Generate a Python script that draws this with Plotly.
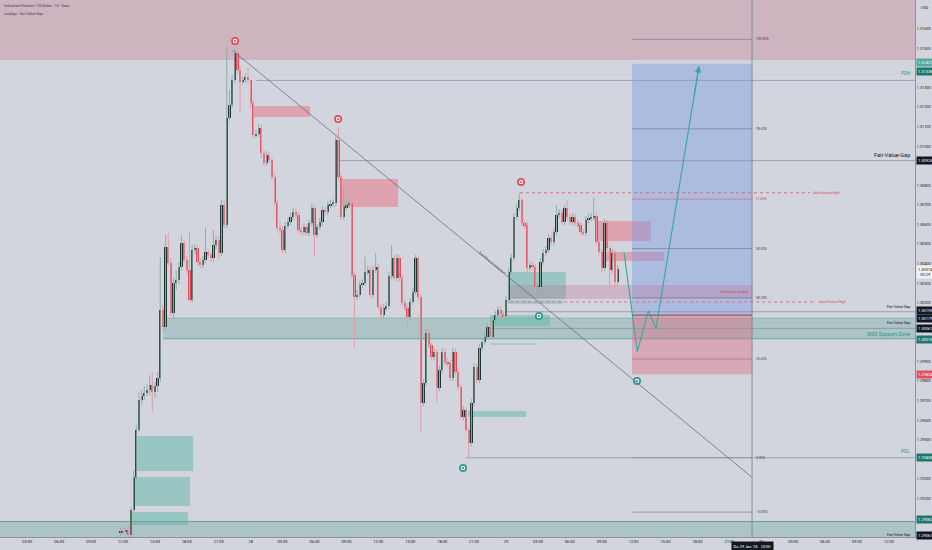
import plotly.graph_objects as go
import pandas as pd

# ---------------- candle data (15 min, CHF/USD) ----------------
bar_start = "2026-01-27 11:45"
first_open = 1.29023
closes = [
    1.29034, 1.29028, 1.29039, 1.29013, 1.29141, 1.29310, 1.29550, 1.29703, 1.29723, 1.29739,
    1.29754, 1.29780, 1.29744, 1.29775, 1.29815, 1.30163, 1.30076, 1.30485, 1.30403, 1.30148,
    1.30301, 1.30316, 1.30383, 1.30505, 1.30418, 1.30367, 1.30214, 1.30470, 1.30480, 1.30408,
    1.30393, 1.30418, 1.30459, 1.30444, 1.30429, 1.30495, 1.30521, 1.30454, 1.30699, 1.30597,
    1.31144, 1.31210, 1.31338, 1.31476, 1.31389, 1.31328, 1.31338, 1.31354, 1.31336, 1.31221,
    1.31057, 1.31062, 1.31093, 1.30965, 1.30914, 1.30955, 1.30929, 1.30843, 1.30710, 1.30582,
    1.30572, 1.30470, 1.30592, 1.30613, 1.30638, 1.30664, 1.30648, 1.30572, 1.30562, 1.30587,
    1.30556, 1.30607, 1.30684, 1.30546, 1.30587, 1.30613, 1.30674, 1.30664, 1.30699, 1.30705,
    1.30710, 1.31032, 1.30843, 1.30638, 1.30689, 1.30699, 1.30710, 1.30342, 1.30229, 1.30240,
    1.30291, 1.30301, 1.30357, 1.30367, 1.30240, 1.30367, 1.30383, 1.30178, 1.30137, 1.30173,
    1.30183, 1.30337, 1.30429, 1.30326, 1.30429, 1.30326, 1.30199, 1.30173, 1.30127, 1.30204,
    1.30255, 1.30429, 1.30229, 1.29688, 1.29790, 1.30045, 1.29984, 1.29923, 1.29948, 1.29764,
    1.29856, 1.29948, 1.29897, 1.29892, 1.29815, 1.29948, 1.29846, 1.29769, 1.29616, 1.29652,
    1.29550, 1.29483, 1.29688, 1.29872, 1.29805, 1.29969, 1.29999, 1.30025, 1.30076, 1.30025,
    1.30112, 1.30137, 1.30163, 1.30142, 1.30132, 1.30214, 1.30357, 1.30429, 1.30638, 1.30684,
    1.30725, 1.30607, 1.30597, 1.30378, 1.30393, 1.30383, 1.30281, 1.30283, 1.30408, 1.30454,
    1.30470, 1.30531, 1.30510, 1.30562, 1.30648, 1.30659, 1.30613, 1.30684, 1.30638, 1.30613,
    1.30638, 1.30607, 1.30597, 1.30562, 1.30556, 1.30623, 1.30633, 1.30638, 1.30643, 1.30510,
    1.30459, 1.30378, 1.30607, 1.30480, 1.30367, 1.30454, 1.30306, 1.30374,
]
highs = [
    1.29049, 1.29049, 1.29054, 1.29069, 1.29156, 1.29345, 1.29575, 1.29744, 1.29754, 1.29775,
    1.29785, 1.29831, 1.29846, 1.29795, 1.29846, 1.30434, 1.30189, 1.30546, 1.30556, 1.30429,
    1.30326, 1.30367, 1.30408, 1.30546, 1.30521, 1.30439, 1.30562, 1.30495, 1.30500, 1.30495,
    1.30429, 1.30439, 1.30582, 1.30475, 1.30459, 1.30572, 1.30541, 1.30541, 1.30725, 1.30725,
    1.31507, 1.31287, 1.31364, 1.31497, 1.31492, 1.31410, 1.31359, 1.31374, 1.31400, 1.31336,
    1.31236, 1.31083, 1.31113, 1.31108, 1.30981, 1.30975, 1.30970, 1.30945, 1.30858, 1.30725,
    1.30613, 1.30592, 1.30613, 1.30633, 1.30659, 1.30684, 1.30679, 1.30664, 1.30587, 1.30607,
    1.30602, 1.30623, 1.30710, 1.30699, 1.30602, 1.30633, 1.30694, 1.30689, 1.30720, 1.30725,
    1.30730, 1.31057, 1.31098, 1.30858, 1.30791, 1.30725, 1.30730, 1.30725, 1.30357, 1.30265,
    1.30311, 1.30321, 1.30434, 1.30388, 1.30383, 1.30388, 1.30454, 1.30398, 1.30194, 1.30194,
    1.30204, 1.30357, 1.30495, 1.30444, 1.30449, 1.30444, 1.30342, 1.30214, 1.30189, 1.30224,
    1.30275, 1.30444, 1.30444, 1.30245, 1.29810, 1.30066, 1.30061, 1.29999, 1.29969, 1.29964,
    1.29877, 1.29969, 1.29964, 1.29918, 1.29907, 1.29969, 1.29964, 1.29861, 1.29785, 1.29672,
    1.29667, 1.29565, 1.29708, 1.29892, 1.29887, 1.29989, 1.30020, 1.30045, 1.30097, 1.30091,
    1.30132, 1.30158, 1.30183, 1.30178, 1.30158, 1.30234, 1.30378, 1.30449, 1.30659, 1.30705,
    1.30761, 1.30740, 1.30623, 1.30613, 1.30413, 1.30408, 1.30398, 1.30301, 1.30429, 1.30475,
    1.30490, 1.30551, 1.30546, 1.30582, 1.30699, 1.30679, 1.30674, 1.30699, 1.30725, 1.30654,
    1.30659, 1.30654, 1.30623, 1.30613, 1.30577, 1.30643, 1.30654, 1.30659, 1.30740, 1.30659,
    1.30526, 1.30475, 1.30628, 1.30623, 1.30495, 1.30475, 1.30470, 1.30393,
]
lows = [
    1.29008, 1.29013, 1.29018, 1.29003, 1.28988, 1.29131, 1.29294, 1.29539, 1.29677, 1.29703,
    1.29723, 1.29729, 1.29642, 1.29713, 1.29744, 1.29795, 1.30050, 1.30061, 1.30388, 1.30132,
    1.30122, 1.30265, 1.30296, 1.30367, 1.30403, 1.30347, 1.30204, 1.30199, 1.30449, 1.30388,
    1.30378, 1.30378, 1.30403, 1.30429, 1.30408, 1.30408, 1.30475, 1.30418, 1.30439, 1.30582,
    1.30582, 1.31129, 1.31195, 1.31323, 1.31374, 1.31175, 1.31313, 1.31323, 1.31323, 1.31195,
    1.31042, 1.31042, 1.31047, 1.30940, 1.30899, 1.30899, 1.30914, 1.30827, 1.30694, 1.30562,
    1.30551, 1.30454, 1.30454, 1.30577, 1.30597, 1.30623, 1.30633, 1.30556, 1.30541, 1.30546,
    1.30541, 1.30541, 1.30592, 1.30434, 1.30531, 1.30572, 1.30597, 1.30648, 1.30648, 1.30684,
    1.30689, 1.30694, 1.30827, 1.30623, 1.30623, 1.30674, 1.30684, 1.30326, 1.29969, 1.30214,
    1.30224, 1.30275, 1.30286, 1.30342, 1.30224, 1.30224, 1.30352, 1.30163, 1.30097, 1.30122,
    1.30158, 1.30168, 1.30321, 1.30311, 1.30311, 1.30306, 1.30183, 1.30158, 1.30076, 1.30112,
    1.30189, 1.30240, 1.30214, 1.29534, 1.29672, 1.29775, 1.29969, 1.29907, 1.29907, 1.29688,
    1.29749, 1.29841, 1.29882, 1.29872, 1.29800, 1.29800, 1.29831, 1.29754, 1.29601, 1.29601,
    1.29534, 1.29408, 1.29468, 1.29672, 1.29790, 1.29790, 1.29953, 1.29984, 1.30010, 1.30010,
    1.30010, 1.30097, 1.30122, 1.30127, 1.30117, 1.30117, 1.30199, 1.30342, 1.30413, 1.30623,
    1.30669, 1.30592, 1.30577, 1.30357, 1.30362, 1.30367, 1.30255, 1.30260, 1.30265, 1.30393,
    1.30439, 1.30454, 1.30495, 1.30495, 1.30546, 1.30633, 1.30597, 1.30597, 1.30623, 1.30597,
    1.30597, 1.30592, 1.30582, 1.30546, 1.30541, 1.30541, 1.30607, 1.30618, 1.30618, 1.30495,
    1.30444, 1.30352, 1.30362, 1.30464, 1.30265, 1.30352, 1.30265, 1.30291,
]

# ---------------- drawings ----------------
pdh_price, pdl_price = 1.31336, 1.29408
fvg_line_prices = [1.30926, 1.30154, 1.30069]
fvg_line_starts = ["2026-01-28 08:24", "2026-01-28 23:55", "2026-01-28 22:30"]

bull_fvgs = [  # (start, end, low, high)
    ("2026-01-27 13:19", "2026-01-27 18:35", 1.29340, 1.29519),
    ("2026-01-27 12:56", "2026-01-27 18:18", 1.29161, 1.29310),
    ("2026-01-27 12:45", "2026-01-27 18:07", 1.29064, 1.29131),
    ("2026-01-28 20:26", "2026-01-29 01:53", 1.29616, 1.29647),
    ("2026-01-29 00:23", "2026-01-29 05:38", 1.30219, 1.30357),
    ("2026-01-28 22:30", "2026-01-29 04:08", 1.30081, 1.30137),
]
bull_fvg_thin = [
    ("2026-01-29 00:11", "2026-01-29 05:22", 1.30194, 1.30214),
    ("2026-01-28 22:30", "2026-01-29 02:55", 1.29984, 1.29994),
]
bear_fvgs = [
    ("2026-01-28 00:13", "2026-01-28 05:35", 1.31149, 1.31205),
    ("2026-01-28 08:30", "2026-01-28 13:51", 1.30689, 1.30832),
    ("2026-01-29 08:28", "2026-01-29 13:38", 1.30515, 1.30618),
    ("2026-01-29 09:19", "2026-01-29 14:52", 1.30413, 1.30459),
]
top_zone_low = 1.31440
bottom_zone_high = 1.29082
m30_zone = ("2026-01-27 15:46", 1.30016, 1.30122)
ext_liq = ("2026-01-29 00:23", "2026-01-29 23:08", 1.30219, 1.30291)

pos_start, pos_end = "2026-01-29 11:51", "2026-01-29 23:08"
target_price, entry_price, stop_price = 1.31421, 1.30137, 1.29834

fib_low, fib_high = 1.29408, 1.31546
fib_levels = [1.0, 0.786, 0.618, 0.5, 0.382, 0.236, 0.0, -0.13]
fib_texts = ["100.00%", "78.60%", "61.80%", "50.00%", "38.20%", "23.60%", "0.00%", "-13.00%"]

asia_lines = [  # (price, start, end)
    (1.30762, "2026-01-29 01:19", "2026-01-30 04:35"),
    (1.30204, "2026-01-29 00:23", "2026-01-30 05:03"),
]
trend_t = ["2026-01-27 22:19", "2026-01-29 23:08"]
trend_p = [1.31488, 1.29308]

bear_mark_t = ["2026-01-27 22:32", "2026-01-28 08:13", "2026-01-29 01:25"]
bear_mark_p = [1.31537, 1.31139, 1.30817]
bull_mark_t = ["2026-01-28 19:58", "2026-01-29 03:06", "2026-01-29 12:19"]
bull_mark_p = [1.29356, 1.30132, 1.29800]

path_t = ["2026-01-29 11:06", "2026-01-29 12:21", "2026-01-29 13:23", "2026-01-29 14:06"]
path_p = [1.30456, 1.29950, 1.30159, 1.30069]
arrow_end = ("2026-01-29 18:09", 1.31410)

crosshair_t = "2026-01-29 23:08"

# price-scale ticks (those hidden behind price labels in the reference are left out)
y_tick_vals = [1.292, 1.293, 1.295, 1.296, 1.297, 1.298, 1.299,
               1.302, 1.303, 1.304, 1.305, 1.306, 1.307, 1.308,
               1.310, 1.311, 1.312, 1.313, 1.315, 1.316]
x_tick_vals = pd.date_range("2026-01-27 03:00", "2026-01-30 12:00", freq="3h")
x_tick_text = [t.strftime("%d").lstrip("0") if t.hour == 0 else t.strftime("%H:%M") for t in x_tick_vals]

axis_labels = [  # (text, display price, bg, fg)
    ("1.31421", 1.31427, "#55a9a0", "white"),
    ("1.31336", 1.31382, "#21766c", "white"),
    ("1.30926", 1.30926, "#131722", "white"),
    ("1.30374<br>00:29", 1.30355, "#eef0f4", "#131722"),
    ("1.30193", 1.30159, "#131722", "white"),
    ("1.30179", 1.30120, "#131722", "white"),
    ("1.30067", 1.30069, "#131722", "white"),
    ("1.30016", 1.30013, "#21766c", "white"),
    ("1.29834", 1.29834, "#e0505e", "white"),
    ("1.29408", 1.29408, "#21766c", "white"),
    ("1.29082", 1.29094, "#21766c", "white"),
    ("1.29067", 1.29012, "#131722", "white"),
]

# ---------------- colours ----------------
BG = "#d2d5dd"
BULL_BODY, BEAR_BODY = "#1b3632", "#e04b5a"
BULL_WICK, BEAR_WICK = "#92aea6", "#e89aa4"
TEAL_TXT = "#2b958a"
DARK = "#131722"

times = pd.date_range(bar_start, periods=len(closes), freq="15min")
opens = [first_open] + closes[:-1]

fig = go.Figure()

# wicks
ux, uy, dx, dy = [], [], [], []
for t, o, h, l, c in zip(times, opens, highs, lows, closes):
    if c >= o:
        ux += [t, t, None]; uy += [l, h, None]
    else:
        dx += [t, t, None]; dy += [l, h, None]
fig.add_trace(go.Scatter(x=ux, y=uy, mode="lines", line=dict(color=BULL_WICK, width=1), hoverinfo="skip"))
fig.add_trace(go.Scatter(x=dx, y=dy, mode="lines", line=dict(color=BEAR_WICK, width=1), hoverinfo="skip"))

# bodies
for bull in (True, False):
    bx, bb, bh = [], [], []
    for t, o, c in zip(times, opens, closes):
        if (c >= o) == bull:
            bx.append(t); bb.append(min(o, c)); bh.append(max(abs(c - o), 0.00003))
    fig.add_trace(go.Bar(x=bx, y=bh, base=bb, width=760000,
                         marker=dict(color=BULL_BODY if bull else BEAR_BODY, line=dict(width=0)),
                         hoverinfo="skip"))

shapes = []
FAR_L, FAR_R = "2026-01-26 12:00", "2026-01-31 06:00"


def rect(x0, x1, y0, y1, fill, line_color=None, lw=0, layer="below"):
    shapes.append(dict(type="rect", xref="x", yref="y", x0=x0, x1=x1, y0=y0, y1=y1,
                       fillcolor=fill, line=dict(color=line_color or "rgba(0,0,0,0)", width=lw),
                       layer=layer))


def hline(p, x0, x1, color, width=1, dash="solid", layer="below"):
    shapes.append(dict(type="line", xref="x", yref="y", x0=x0, x1=x1, y0=p, y1=p,
                       line=dict(color=color, width=width, dash=dash), layer=layer))


# zones
rect(FAR_L, FAR_R, top_zone_low, 1.3300, "rgba(200,147,159,0.5)")
rect(FAR_L, FAR_R, 1.2850, bottom_zone_high, "rgba(118,171,164,0.40)")
hline(bottom_zone_high, FAR_L, FAR_R, "rgba(70,150,140,0.8)", 1)
rect(m30_zone[0], FAR_R, m30_zone[1], m30_zone[2], "rgba(118,171,164,0.40)")
hline(m30_zone[1], m30_zone[0], FAR_R, "rgba(70,150,140,0.7)", 1)
hline(m30_zone[2], m30_zone[0], FAR_R, "rgba(70,150,140,0.35)", 1)
for x0, x1, lo, hi in bull_fvgs:
    rect(x0, x1, lo, hi, "rgba(96,183,167,0.5)")
for x0, x1, lo, hi in bull_fvg_thin:
    rect(x0, x1, lo, hi, "rgba(96,183,167,0.35)")
for x0, x1, lo, hi in bear_fvgs:
    rect(x0, x1, lo, hi, "rgba(234,113,129,0.5)")

# long position tool
rect(pos_start, pos_end, entry_price, target_price, "rgba(120,155,230,0.42)")
rect(pos_start, pos_end, stop_price, entry_price, "rgba(225,100,124,0.40)")
rect(ext_liq[0], ext_liq[1], ext_liq[2], ext_liq[3], "rgba(195,110,150,0.30)")
hline(entry_price, pos_start, pos_end, "rgba(160,70,85,0.9)", 1.2)

# fib
for lv in fib_levels:
    p = fib_low + lv * (fib_high - fib_low)
    col = "rgba(215,110,125,0.9)" if lv == 0.618 else "rgba(110,116,130,0.75)"
    hline(p, pos_start, pos_end, col, 0.8)

# key levels
hline(pdh_price, "2026-01-28 00:30", FAR_R, "rgba(140,150,175,0.8)", 1)
hline(pdl_price, "2026-01-28 20:14", FAR_R, "rgba(140,150,175,0.8)", 1)
for p, s in zip(fvg_line_prices, fvg_line_starts):
    hline(p, s, FAR_R, "rgba(140,146,160,0.8)", 1)
for p, s, e in asia_lines:
    hline(p, s, e, "rgba(220,100,115,0.9)", 1, "dot")

# trendline + crosshair
shapes.append(dict(type="line", xref="x", yref="y", x0=trend_t[0], y0=trend_p[0], x1=trend_t[1],
                   y1=trend_p[1], line=dict(color="rgba(95,100,115,0.9)", width=0.8), layer="above"))
shapes.append(dict(type="line", xref="x", yref="paper", x0=crosshair_t, x1=crosshair_t, y0=0, y1=1,
                   line=dict(color="rgba(125,132,150,0.75)", width=1.2), layer="above"))

# projection path
fig.add_trace(go.Scatter(x=path_t + [arrow_end[0]], y=path_p + [arrow_end[1]], mode="lines",
                         line=dict(color="#36a89b", width=1.1), hoverinfo="skip"))

# markers
for mt, mp, col in ((bear_mark_t, bear_mark_p, "#e04e5c"), (bull_mark_t, bull_mark_p, "#2f9a8c")):
    fig.add_trace(go.Scatter(x=mt, y=mp, mode="markers", marker=dict(size=8, color=col), hoverinfo="skip"))
    fig.add_trace(go.Scatter(x=mt, y=mp, mode="markers", marker=dict(size=4.5, color="#f4f4f6"), hoverinfo="skip"))
    fig.add_trace(go.Scatter(x=mt, y=mp, mode="markers", marker=dict(size=2.2, color=col), hoverinfo="skip"))

ann = []
PW = 915.0  # plot width in px


def txt(text, x, y, size, color, xanchor="right", yanchor="middle", xref="paper", yref="y", **kw):
    d = dict(text=text, x=x, y=y, xref=xref, yref=yref, xanchor=xanchor, yanchor=yanchor,
             showarrow=False, font=dict(size=size, color=color))
    d.update(kw)
    ann.append(d)


# arrow head of the projection
ann.append(dict(x=arrow_end[0], y=arrow_end[1], ax="2026-01-29 17:40", ay=1.31250, xref="x", yref="y",
                axref="x", ayref="y", text="", showarrow=True, arrowhead=2, arrowsize=1.2,
                arrowwidth=1.1, arrowcolor="#36a89b"))

# right axis price labels
for t, p, bg, fg in axis_labels:
    ann.append(dict(text=t, x=1.0, y=p, xref="paper", yref="y", xanchor="left", yanchor="middle",
                    showarrow=False, bgcolor=bg, borderpad=1, xshift=0.5,
                    font=dict(size=4, color=fg)))

R = 912 / PW
txt("Fair-Value-Gap", R, 1.30926, 5.6, DARK, yanchor="bottom", yshift=1)
txt("PDH", R, pdh_price, 4.6, TEAL_TXT, yanchor="bottom", yshift=2)
txt("Fair-Value-Gap", R, 1.30154, 3.6, DARK, yanchor="bottom", yshift=1)
txt("Fair-Value-Gap", R, 1.30069, 3.6, DARK, yanchor="bottom", yshift=1)
txt("M30 Support-Zone", R, 1.30042, 5.2, TEAL_TXT)
txt("PDL", R, pdl_price, 4.6, TEAL_TXT, yanchor="bottom", yshift=2)
txt("Fair-Value-Gap", R, 1.29012, 3.6, DARK)
txt("External Liquidity", 751 / PW, 1.30255, 3.6, "#c4485a")
txt("Asia-Session-High", 811 / PW, asia_lines[0][0], 3.3, "#d0505f", xanchor="left")
txt("Asia-Session-High", 817 / PW, asia_lines[1][0], 3.3, "#d0505f", xanchor="left")
for lv, ft in zip(fib_levels, fib_texts):
    p = fib_low + lv * (fib_high - fib_low)
    txt(ft, 754 / PW, p, 3.3, "#d0505f" if lv == 0.618 else "#3a3f4a", xanchor="left")
txt("Trendline Connection", 492 / PW, 1.30403, 3.6, "#4a505c", xanchor="center", textangle=39.4)

# title
txt("Schweizer Franken / US Dollar · 15 · Saxo", 2 / PW, 1 - 6.5 / 537, 3.6, "#3a3f4a",
    xanchor="left", yref="paper")
txt("LuxAlgo - Fair Value Gap", 2 / PW, 1 - 14.5 / 537, 3.6, "#3a3f4a", xanchor="left", yref="paper")
txt("USD", 919 / PW, 1 - 8 / 537, 3.8, DARK, xanchor="left", yref="paper")
# crosshair time label
ann.append(dict(text="Do 29 Jan '26   23:00", x=crosshair_t, y=-8.5 / 537, xref="x", yref="paper",
                xanchor="center", yanchor="middle", showarrow=False, bgcolor=DARK, borderpad=1.5,
                font=dict(size=4, color="white")))

fig.update_layout(
    width=932, height=550, autosize=False,
    margin=dict(l=0, r=17, t=0, b=13, pad=0),
    paper_bgcolor=BG, plot_bgcolor=BG,
    showlegend=False, barmode="overlay", bargap=0,
    font=dict(family="Roboto, Liberation Sans, sans-serif", color=DARK),
    shapes=shapes, annotations=ann,
    xaxis=dict(type="date", range=["2026-01-27 00:26", "2026-01-30 14:27"], showgrid=False,
               zeroline=False, tickvals=list(x_tick_vals), ticktext=x_tick_text,
               tickfont=dict(size=4, color=DARK), ticks="", showline=True,
               linecolor="#8d93a0", linewidth=1, automargin=False, fixedrange=True),
    yaxis=dict(range=[1.29003, 1.31747], side="right", showgrid=False, zeroline=False,
               tickvals=y_tick_vals, ticktext=["%.5f" % v for v in y_tick_vals],
               tickfont=dict(size=3.8, color=DARK), ticks="", showline=True,
               linecolor="#8d93a0", linewidth=1, automargin=False, fixedrange=True),
)

fig.write_html("out.html", config={"displayModeBar": False},
               post_script="document.body.style.margin='0';document.body.style.padding='0';"
                           "document.body.style.background='" + BG + "';")
